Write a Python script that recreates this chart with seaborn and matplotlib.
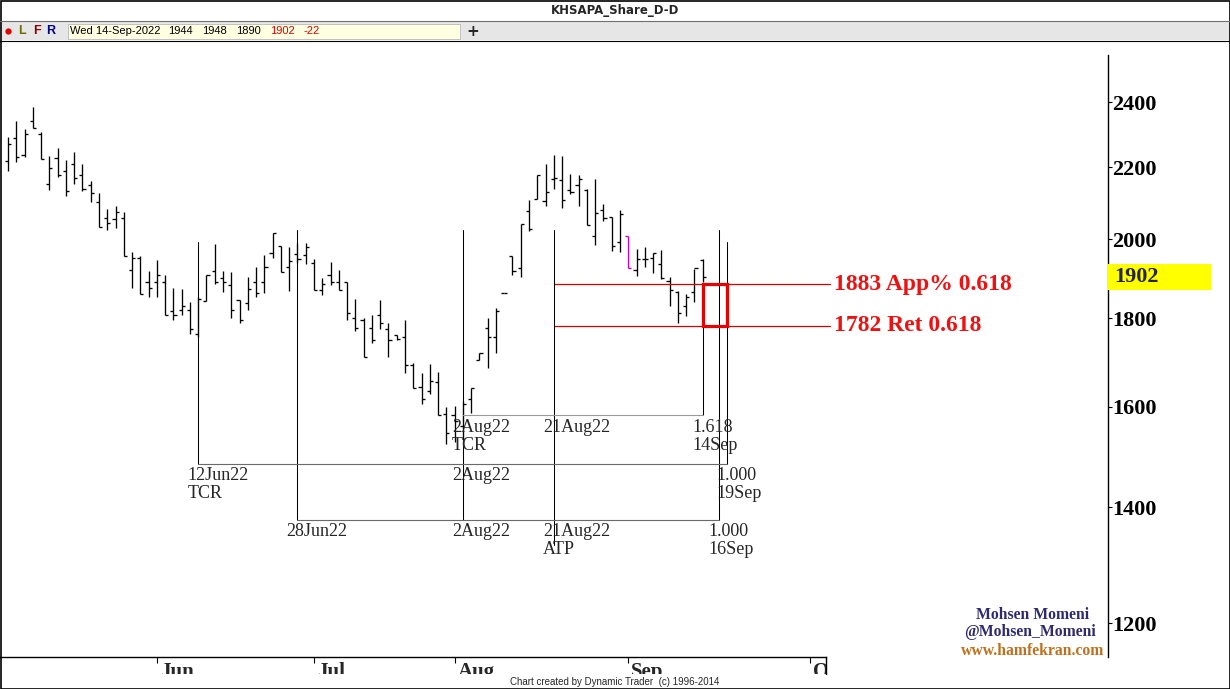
"""Recria o gráfico OHLC do KHSAPA (estilo Dynamic Trader)."""
from __future__ import annotations

import numpy as np
import matplotlib
matplotlib.use("Agg")
import matplotlib.pyplot as plt
from matplotlib.patches import Rectangle
import seaborn as sns

sns.set_theme(style="white")
plt.rcParams["font.family"] = ["DejaVu Sans"]

SERIF = "Liberation Serif"
SANS = "Liberation Sans"

titulo = "KHSAPA_Share_D-D"
data_ultima = "Wed 14-Sep-2022"

# barras diárias
abre = [2219, 2288, 2236, 2340, 2300, 2152, 2227, 2189, 2210, 2178,
        2149, 2101, 2056, 2054, 2056, 1919, 1950, 1888, 1888, 1888,
        1817, 1819, 1819, 1764, 1841, 1916, 1898, 1881, 1844, 1836,
        1888, 1888, 1963, 1981, 1926, 1960, 1957, 1937, 1868, 1908,
        1888, 1888, 1802, 1797, 1778, 1807, 1774, 1760, 1757, 1691,
        1642, 1635, 1653, 1584, 1582, 1560, 1616, 1702, 1778, 1757,
        1861, 1955, 1924, 2076, 2109, 2104, 2166, 2163, 2135, 2149,
        2135, 2008, 2078, 2059, 1992, 2008, 1919, 1947, 1950, 1934,
        1891, 1863, 1829, 1863, 1944]
maxima = [2291, 2340, 2315, 2384, 2306, 2233, 2257, 2222, 2245, 2210,
          2160, 2126, 2081, 2090, 2073, 1965, 1955, 1916, 1944, 1908,
          1873, 1871, 1839, 1851, 1906, 1986, 1916, 1914, 1844, 1901,
          1926, 1957, 2016, 1981, 1978, 1990, 1989, 1947, 1898, 1939,
          1919, 1888, 1846, 1802, 1807, 1844, 1788, 1760, 1797, 1697,
          1673, 1693, 1677, 1599, 1601, 1612, 1640, 1718, 1800, 1826,
          1861, 1955, 2040, 2106, 2178, 2210, 2236, 2233, 2181, 2178,
          2137, 2166, 2095, 2059, 2078, 2008, 1973, 1978, 1963, 1971,
          1901, 1866, 1858, 1921, 1948]
minima = [2189, 2216, 2230, 2318, 2225, 2135, 2172, 2118, 2152, 2132,
          2101, 2032, 2024, 2029, 1955, 1873, 1858, 1851, 1851, 1809,
          1797, 1809, 1762, 1757, 1841, 1883, 1863, 1800, 1788, 1819,
          1851, 1861, 1950, 1914, 1866, 1937, 1934, 1868, 1856, 1881,
          1868, 1797, 1771, 1709, 1741, 1774, 1709, 1750, 1673, 1640,
          1607, 1627, 1582, 1524, 1528, 1535, 1588, 1702, 1686, 1718,
          1861, 1906, 1901, 2021, 2109, 2090, 2137, 2084, 2123, 2090,
          2037, 1984, 2048, 1968, 1965, 1924, 1903, 1926, 1911, 1896,
          1829, 1790, 1805, 1839, 1890]
fecha = [2269, 2230, 2300, 2318, 2225, 2198, 2178, 2132, 2169, 2137,
         2126, 2032, 2043, 2073, 1955, 1950, 1858, 1873, 1906, 1809,
         1809, 1829, 1774, 1846, 1906, 1888, 1888, 1819, 1797, 1871,
         1861, 1926, 2016, 1914, 1942, 1947, 1978, 1868, 1883, 1888,
         1868, 1812, 1778, 1709, 1748, 1788, 1748, 1752, 1691, 1640,
         1616, 1655, 1582, 1546, 1570, 1607, 1640, 1718, 1757, 1817,
         1861, 1916, 2040, 2026, 2178, 2129, 2169, 2106, 2129, 2166,
         2037, 2070, 2056, 1981, 2067, 1924, 1947, 1947, 1963, 1898,
         1868, 1814, 1851, 1924, 1902]
barra_destaque = 75

meses = ["Jun", "Jul", "Aug", "Sep", "Oct"]
meses_pos = [18, 37, 54, 75, 97]

precos_eixo = [1200, 1400, 1600, 1800, 2000, 2200, 2400]

niveis = [1883, 1782]
niveis_txt = ["App% 0.618", "Ret 0.618"]
nivel_inicio = 66

ciclo_datas = ["12Jun22", "28Jun22", "2Aug22", "21Aug22", "14Sep", "16Sep", "19Sep"]
ciclo_barras = [23, 35, 55, 66, 84, 86, 87]

# --- layout em pixels da figura ---
W, H = 1230, 689
STEP, X0 = 8.27, 8          # px por barra, px da primeira barra
TOP, BOT = 41, 657          # área do gráfico


def rect(x0, y0, x1, y1):
    return [x0 / W, 1 - y1 / H, (x1 - x0) / W, (y1 - y0) / H]


def xi(px):
    return (px - X0) / STEP


def fy(py):
    return (BOT - py) / (BOT - TOP)


fig = plt.figure(figsize=(W / 100, H / 100), dpi=100)
fig.patch.set_facecolor("white")

ax = fig.add_axes(rect(0, TOP, 1108, BOT))
ax.set_facecolor("white")
ax.set_yscale("log")

idx = np.arange(len(fecha))
cores = ["black"] * len(fecha)
cores[barra_destaque] = "#c800c8"
ax.vlines(idx, minima, maxima, colors=cores, lw=0.95)
ax.hlines(abre, idx - 0.38, idx, colors=cores, lw=0.95)
ax.hlines(fecha, idx, idx + 0.38, colors=cores, lw=0.95)

# níveis de Fibonacci
for nv, txt in zip(niveis, niveis_txt):
    ax.plot([nivel_inicio, xi(830)], [nv, nv], color="#d40000", lw=0.9)
    ax.text(xi(834), nv, f"{nv} {txt}", va="center", ha="left", color="#ee1111",
            fontsize=17, fontweight="bold", family=SERIF)
ax.add_patch(Rectangle((ciclo_barras[4], niveis[1]), ciclo_barras[6] - ciclo_barras[4],
                       niveis[0] - niveis[1], fill=False, ec="#e60000", lw=2.3, zorder=4))

# ciclos de tempo
tr = ax.get_xaxis_transform()
b = dict(zip(ciclo_datas, ciclo_barras))
verticais = [("12Jun22", 242, 464), ("28Jun22", 230, 520), ("2Aug22", 230, 520),
             ("21Aug22", 230, 545), ("14Sep", 285, 415), ("16Sep", 230, 520),
             ("19Sep", 242, 464)]
for nome, y0, y1 in verticais:
    ax.plot([b[nome], b[nome]], [fy(y0), fy(y1)], transform=tr, color="black", lw=0.75)

linhas = [
    (415, "#9a9a9a", "2Aug22", "14Sep",
     [("2Aug22", "2Aug22", "TCR"), ("21Aug22", "21Aug22", ""), ("14Sep", "1.618", "14Sep")]),
    (464, "#6a6a6a", "12Jun22", "19Sep",
     [("12Jun22", "12Jun22", "TCR"), ("2Aug22", "2Aug22", ""), ("19Sep", "1.000", "19Sep")]),
    (520, "#6a6a6a", "28Jun22", "16Sep",
     [("28Jun22", "28Jun22", ""), ("2Aug22", "2Aug22", ""), ("21Aug22", "21Aug22", "ATP"),
      ("16Sep", "1.000", "16Sep")]),
]
for ylin, cor, ini, fim, rot in linhas:
    ax.plot([b[ini], b[fim]], [fy(ylin), fy(ylin)], transform=tr, color=cor, lw=0.8)
    for nome, l1, l2 in rot:
        ax.text(b[nome] - 1.3, fy(ylin + 12), l1, transform=tr, va="center", ha="left",
                fontsize=13, family=SERIF)
        if l2:
            ax.text(b[nome] - 1.3, fy(ylin + 30), l2, transform=tr, va="center", ha="left",
                    fontsize=13, family=SERIF)

# eixo de preços à direita
ax.set_xlim(xi(0), xi(1108))
ax.set_ylim(2400 * np.exp(-(BOT - 102) / 752), 2400 * np.exp((102 - TOP) / 752))
for s in ["left", "top", "bottom"]:
    ax.spines[s].set_visible(False)
ax.spines["right"].set_color("black")
ax.spines["right"].set_linewidth(1.0)
ax.spines["right"].set_bounds(ax.get_ylim()[0], 2400 * np.exp((102 - 55) / 752))
ax.yaxis.tick_right()
ax.set_yticks(precos_eixo, labels=[str(p) for p in precos_eixo])
ax.yaxis.set_minor_locator(matplotlib.ticker.NullLocator())
ax.tick_params(axis="y", which="major", right=True, length=3, width=0.8, pad=0.2,
               colors="black", labelsize=16)
for lb in ax.get_yticklabels():
    lb.set_fontfamily(SERIF)
    lb.set_fontweight("bold")
ax.set_xticks([])
ax.grid(False)

ult = fecha[-1]
k = np.exp(13 / 752)
ax.add_patch(Rectangle((0.999, ult / k), 0.094, ult * k - ult / k, transform=ax.get_yaxis_transform(),
                       fc="#ffff00", ec="none", clip_on=False, zorder=5))
ax.text(1.006, ult, str(ult), transform=ax.get_yaxis_transform(), va="center", ha="left",
        fontsize=16, fontweight="bold", family=SERIF, zorder=6)

# régua de tempo (rótulos cortados como no original)
axm = fig.add_axes(rect(0, BOT, 826, 674))
axm.set_xlim(xi(0), xi(826))
axm.set_ylim(0, 1)
axm.set_facecolor("white")
for s in ["left", "bottom"]:
    axm.spines[s].set_visible(False)
for s in ["top", "right"]:
    axm.spines[s].set_color("black")
    axm.spines[s].set_linewidth(1.0)
axm.set_yticks([])
axm.set_xticks(meses_pos, labels=[])
axm.tick_params(axis="x", top=True, bottom=False, direction="in", length=4, width=0.8, colors="black")
for m, p in zip(meses, meses_pos):
    t = axm.text(p + 3 / STEP, 0.72, m, va="top", ha="left", fontsize=15, fontweight="bold",
                 family=SERIF)
    t.set_clip_on(True)
    t.set_clip_box(axm.bbox)

# sobreposição: cabeçalho, rodapé, assinatura, moldura
ov = fig.add_axes([0, 0, 1, 1])
ov.set_xlim(0, W)
ov.set_ylim(H, 0)
ov.axis("off")
ov.patch.set_alpha(0)
ov.set_zorder(10)

ov.add_patch(Rectangle((1, 675), 826, 13, fc="white", ec="none"))
ov.add_patch(Rectangle((827.5, 658), 270, 10, fc="white", ec="none"))
ov.text(615, 682, "Chart created by Dynamic Trader  (c) 1996-2014", ha="center", va="center",
        fontsize=7, family=SANS)

ov.add_patch(Rectangle((0, 21), W, 19, fc="#e6e6e6", ec="none"))
ov.plot([0, W], [21, 21], color="#707070", lw=0.8)
ov.plot([0, W], [40.5, 40.5], color="black", lw=0.8)
ov.text(615, 10.5, titulo, ha="center", va="center", fontsize=8.5, fontweight="bold")
ov.add_patch(Rectangle((68, 23.5), 392, 15, fc="#ffffe1", ec="#b8b8b8", lw=0.6))
ov.plot([8], [31], "o", color="#e00000", ms=3.5)
for t, x, c in [("L", 18, "#6b6b00"), ("F", 33, "#8b0000"), ("R", 46, "#00008b")]:
    ov.text(x, 31, t, ha="left", va="center", fontsize=9, fontweight="bold", color=c, family=SANS)
infos = [(data_ultima, 70, "black"), (str(abre[-1]), 168, "black"), (str(maxima[-1]), 202, "black"),
         (str(minima[-1]), 236, "black"), (str(fecha[-1]), 270, "#e00000"),
         (str(fecha[-1] - fecha[-2]), 304, "#e00000")]
for t, x, c in infos:
    ov.text(x, 31, t, ha="left", va="center", fontsize=8, color=c, family=SANS)
ov.text(473, 31, "+", ha="center", va="center", fontsize=11, fontweight="bold")

ov.text(1033, 615, "Mohsen Momeni", ha="center", va="center", fontsize=11.3,
        fontweight="bold", color="#2e2a6e", family=SERIF)
ov.text(1030, 632, "@Mohsen_Momeni", ha="center", va="center", fontsize=11.3,
        fontweight="bold", color="#2e2a6e", family=SERIF)
ov.text(1033, 651, "www.hamfekran.com", ha="center", va="center", fontsize=11.3,
        fontweight="bold", color="#c0701c", family=SERIF)

ov.add_patch(Rectangle((0.5, 0.5), W - 1, H - 1, fill=False, ec="black", lw=1.2))

fig.savefig("out.png", dpi=100, facecolor="white")
